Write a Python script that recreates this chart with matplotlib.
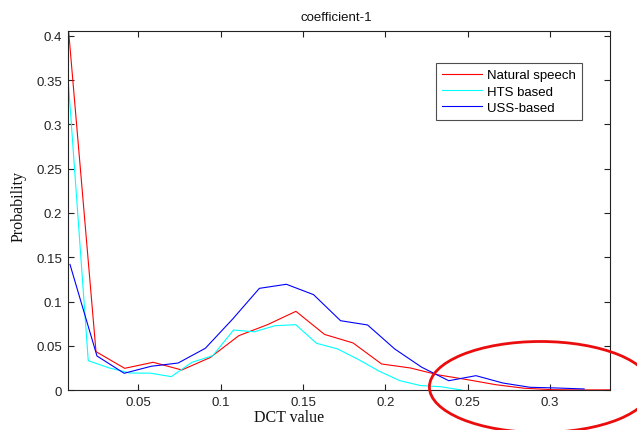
import matplotlib
matplotlib.use("Agg")
import matplotlib.pyplot as plt
from matplotlib.patches import Ellipse
from matplotlib.ticker import FixedLocator, FuncFormatter

# ---- data ----
natural_x = [0.0070, 0.0243, 0.0417, 0.0590, 0.0764, 0.0937, 0.1110, 0.1284, 0.1457, 0.1631,
             0.1804, 0.1977, 0.2151, 0.2324, 0.2498, 0.2671, 0.2844, 0.3018, 0.3191, 0.3364]
natural_y = [0.420, 0.0436, 0.0248, 0.0316, 0.0229, 0.0370, 0.0616, 0.0740, 0.0891, 0.0630,
             0.0534, 0.0297, 0.0252, 0.0173, 0.0120, 0.0063, 0.0023, 0.0007, 0.0004, 0.0005]

hts_x = [0.0070, 0.0196, 0.0322, 0.0448, 0.0574, 0.0700, 0.0826, 0.0952, 0.1078, 0.1204,
         0.1330, 0.1456, 0.1582, 0.1708, 0.1834, 0.1960, 0.2086, 0.2212, 0.2338, 0.2464]
hts_y = [0.361, 0.0334, 0.0253, 0.0195, 0.0193, 0.0154, 0.0316, 0.0390, 0.0680, 0.0660,
         0.0729, 0.0740, 0.0530, 0.0468, 0.0350, 0.0218, 0.0110, 0.0054, 0.0040, 0.0003]

uss_x = [0.0085, 0.0249, 0.0414, 0.0578, 0.0742, 0.0907, 0.1071, 0.1235, 0.1399, 0.1564,
         0.1728, 0.1892, 0.2057, 0.2221, 0.2385, 0.2550, 0.2714, 0.2878, 0.3042, 0.3207]
uss_y = [0.142, 0.0387, 0.0192, 0.0271, 0.0308, 0.0474, 0.0800, 0.1150, 0.1196, 0.1079,
         0.0785, 0.0737, 0.0466, 0.0260, 0.0108, 0.0165, 0.0082, 0.0034, 0.0026, 0.0015]

series_labels = ["Natural speech", "HTS based", "USS-based"]
x_ticks = [0.05, 0.1, 0.15, 0.2, 0.25, 0.3]
y_ticks = [0, 0.05, 0.1, 0.15, 0.2, 0.25, 0.3, 0.35, 0.4]

W, H = 637, 431
FS = 9.5
fig = plt.figure(figsize=(W / 100, H / 100), dpi=100)
fig.patch.set_facecolor("white")
ax = fig.add_axes([67.5 / W, 1 - 391.3 / H, (610 - 67.5) / W, (391.3 - 32) / H])

ax.plot(natural_x, natural_y, color=(1, 0, 0), lw=0.8, label=series_labels[0])
ax.plot(hts_x, hts_y, color=(0, 1, 1), lw=0.8, label=series_labels[1])
ax.plot(uss_x, uss_y, color=(0, 0, 1), lw=0.8, label=series_labels[2])

ax.set_xlim(0.0070, 0.3364)
ax.set_ylim(0, 0.4053)
ax.xaxis.set_major_locator(FixedLocator(x_ticks))
ax.yaxis.set_major_locator(FixedLocator(y_ticks))
fmt = FuncFormatter(lambda v, p: ("%g" % round(v, 4)))
ax.xaxis.set_major_formatter(fmt)
ax.yaxis.set_major_formatter(fmt)

ax.tick_params(direction="in", top=True, right=True, length=4, width=0.8,
               color="#222222", pad=4)
for lab in ax.get_xticklabels() + ax.get_yticklabels():
    lab.set_fontfamily("Liberation Sans")
    lab.set_fontsize(FS)
    lab.set_color("#222222")
for s in ax.spines.values():
    s.set_color("#222222")
    s.set_linewidth(0.8)

# title and axis labels placed at their positions in the reference (pixels)
fig.text(336.5 / W, 1 - 18 / H, "coefficient-1", family="Liberation Sans", fontsize=FS,
         ha="center", va="center", color="#111111")
fig.text(289 / W, 1 - 418 / H, "DCT value", family="Liberation Serif", fontsize=11.5,
         ha="center", va="center", color="#111111")
fig.text(19 / W, 1 - 206 / H, "Probability", family="Liberation Serif", fontsize=11.5,
         ha="center", va="center", rotation=90, color="#111111")

leg = ax.legend(loc="upper left",
                bbox_to_anchor=((436 - 67.5) / (610 - 67.5), 1 - (64.3 - 32) / (391.3 - 32)),
                prop=dict(family="Liberation Sans", size=FS), frameon=True, fancybox=False,
                edgecolor="#222222", borderpad=0.45, labelspacing=0.3, handlelength=3.0,
                handletextpad=0.4, borderaxespad=0)
leg.get_frame().set_linewidth(0.8)

ell = Ellipse((540.4 / W, 1 - 388 / H), 222 / W, 91 / H, transform=fig.transFigure,
              fill=False, edgecolor=(0.92, 0.05, 0.05), lw=2.0, clip_on=False)
fig.add_artist(ell)

fig.savefig("out.png", dpi=100, facecolor="white")
